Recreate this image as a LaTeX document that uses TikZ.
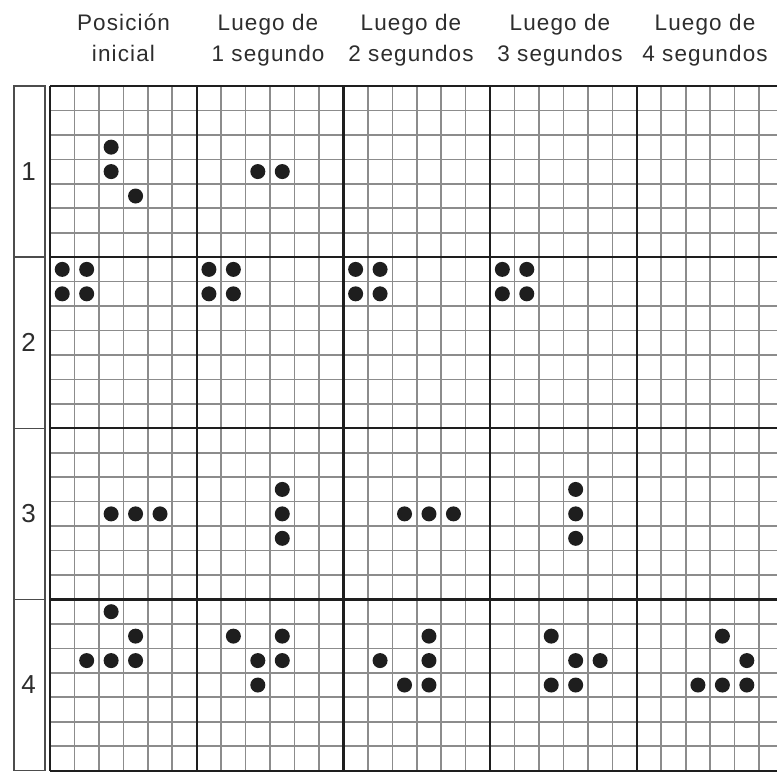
\documentclass[tikz,border=0pt]{standalone}
\usepackage{fontspec}
\setmainfont{Liberation Sans}[LetterSpace=5]
\usetikzlibrary{positioning}
\definecolor{gridgray}{RGB}{140,140,140}
\definecolor{inkdark}{RGB}{30,30,30}
\definecolor{textgray}{RGB}{45,45,45}

\begin{document}
\begin{tikzpicture}[x=1pt, y=-1pt,
  thinline/.style={line width=1.6pt, gridgray},
  blockline/.style={line width=2.2pt, inkdark},
  labelbox/.style={line width=1.6pt, draw=black!70},
  cab/.style={anchor=base, textgray, font=\fontsize{22.5}{26}\selectfont, inner sep=0pt},
  rotulo/.style={textgray, font=\fontsize{26}{30}\selectfont, inner sep=0pt},
  dot/.style={fill=inkdark}]
  \useasboundingbox (0,0) rectangle (777,772);
  \def\cs{24.45}

  % Encabezados
  \foreach \k/\cx/\a/\b in {0/123.5/Posición/inicial, 1/268/Luego de/1 segundo,
      2/411/Luego de/2 segundos, 3/560/Luego de/3 segundos, 4/705/Luego de/4 segundos} {
    \node[cab] (ha\k) at (\cx,30) {\a};
    \node[cab] (hb\k) at (\cx,61) {\b};
  }

  % Rótulos de fila
  \foreach \r in {1,...,4} {
    \draw[labelbox] (14,{86+(\r-1)*7*\cs}) rectangle (45,{86+\r*7*\cs});
    \node[rotulo] (f\r) at (28.5,{86+(\r-0.5)*7*\cs}) {\r};
  }

  \begin{scope}
    \clip (0,0) rectangle (777,772);
    % Cuadrícula fina
    \foreach \i in {0,...,30}
      \draw[thinline] ({50+\i*\cs},86) -- ({50+\i*\cs},{86+28*\cs});
    \foreach \j in {0,...,28}
      \draw[thinline] (50,{86+\j*\cs}) -- (790,{86+\j*\cs});
    % Bloques
    \foreach \i in {0,...,5}
      \draw[blockline] ({50+\i*6*\cs},86) -- ({50+\i*6*\cs},{86+28*\cs});
    \foreach \j in {0,...,4}
      \draw[blockline] (50,{86+\j*7*\cs}) -- (790,{86+\j*7*\cs});

    % Células vivas: bloque col / bloque fila / col / fila
    \foreach \bc/\br/\c/\r in {
        0/0/2/2, 0/0/2/3, 0/0/3/4,
        1/0/2/3, 1/0/3/3,
        0/1/0/0, 0/1/1/0, 0/1/0/1, 0/1/1/1,
        1/1/0/0, 1/1/1/0, 1/1/0/1, 1/1/1/1,
        2/1/0/0, 2/1/1/0, 2/1/0/1, 2/1/1/1,
        3/1/0/0, 3/1/1/0, 3/1/0/1, 3/1/1/1,
        0/2/2/3, 0/2/3/3, 0/2/4/3,
        1/2/3/2, 1/2/3/3, 1/2/3/4,
        2/2/2/3, 2/2/3/3, 2/2/4/3,
        3/2/3/2, 3/2/3/3, 3/2/3/4,
        0/3/2/0, 0/3/3/1, 0/3/1/2, 0/3/2/2, 0/3/3/2,
        1/3/1/1, 1/3/3/1, 1/3/2/2, 1/3/3/2, 1/3/2/3,
        2/3/3/1, 2/3/1/2, 2/3/3/2, 2/3/2/3, 2/3/3/3,
        3/3/2/1, 3/3/3/2, 3/3/4/2, 3/3/2/3, 3/3/3/3,
        4/3/3/1, 4/3/4/2, 4/3/2/3, 4/3/3/3, 4/3/4/3}
      \fill[dot] ({50+\bc*6*\cs+(\c+0.5)*\cs},{86+\br*7*\cs+(\r+0.5)*\cs}) circle (7.5);
  \end{scope}
\end{tikzpicture}
\end{document}
